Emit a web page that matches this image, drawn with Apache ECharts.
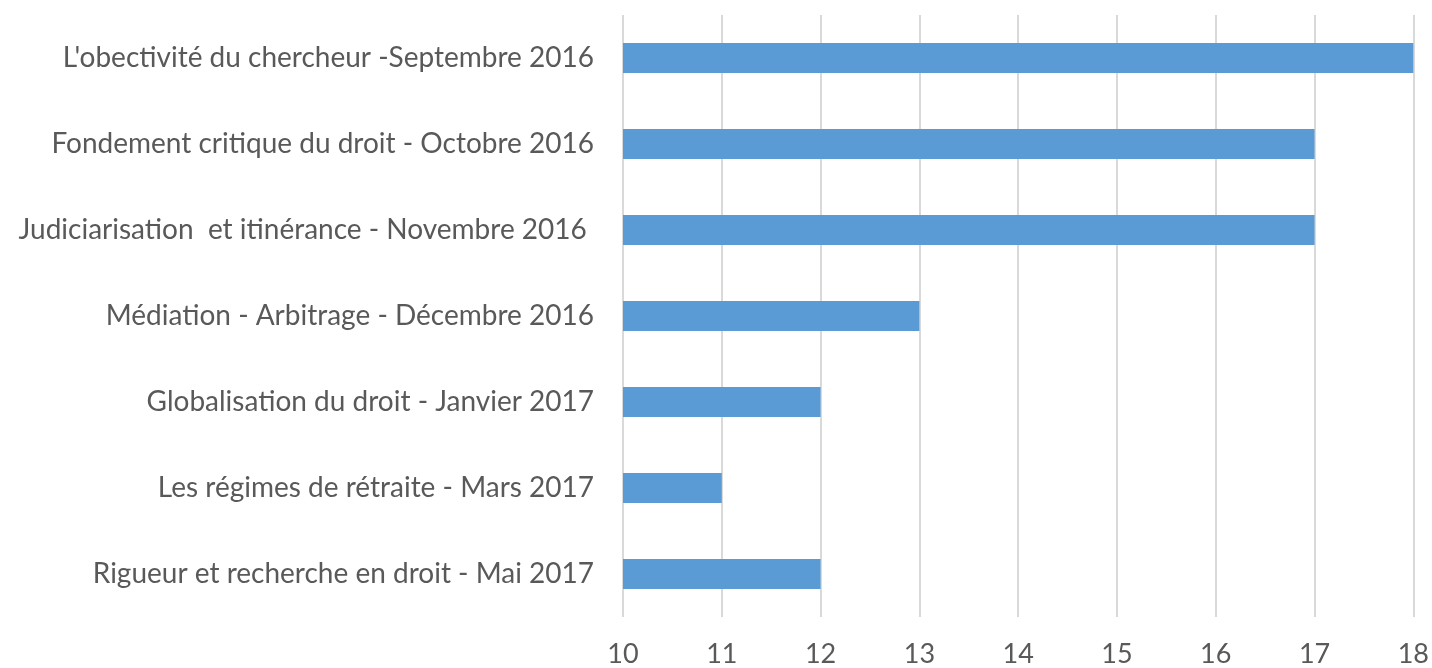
<!DOCTYPE html>
<html>
<head>
<meta charset="utf-8">
<script src="https://cdn.jsdelivr.net/npm/echarts@6/dist/echarts.min.js"></script>
<style>
  html, body {margin: 0; padding: 0; background: #fff;}
  #chart {width: 1432px; height: 668px;}
</style>
</head>
<body>
<div id="chart"></div>
<script>
const categories = [
  "L'obectivité du chercheur -Septembre 2016",
  'Fondement critique du droit - Octobre 2016',
  'Judiciarisation  et itinérance - Novembre 2016 ',
  'Médiation - Arbitrage - Décembre 2016',
  'Globalisation du droit - Janvier 2017',
  'Les régimes de rétraite - Mars 2017',
  'Rigueur et recherche en droit - Mai 2017'
];
const values = [18, 17, 17, 13, 12, 11, 12];
const xTicks = {min: 10, max: 18, step: 1};

const chart = echarts.init(document.getElementById('chart'));
chart.setOption({
  animation: false,
  textStyle: {fontFamily: 'Lato'},
  grid: {left: 623, right: 18, top: 15, bottom: 51},
  xAxis: {
    type: 'value',
    min: xTicks.min,
    max: xTicks.max,
    interval: xTicks.step,
    axisLine: {show: false},
    axisTick: {show: false},
    axisLabel: {color: '#595959', fontSize: 27, margin: 24},
    splitLine: {lineStyle: {color: '#d9d9d9', width: 2}}
  },
  yAxis: {
    type: 'category',
    inverse: true,
    data: categories,
    axisLine: {show: false},
    axisTick: {show: false},
    axisLabel: {color: '#595959', fontSize: 28, margin: 29}
  },
  series: [{
    type: 'bar',
    data: values,
    barWidth: 30,
    itemStyle: {color: '#5b9bd5'}
  }]
});
</script>
</body>
</html>
